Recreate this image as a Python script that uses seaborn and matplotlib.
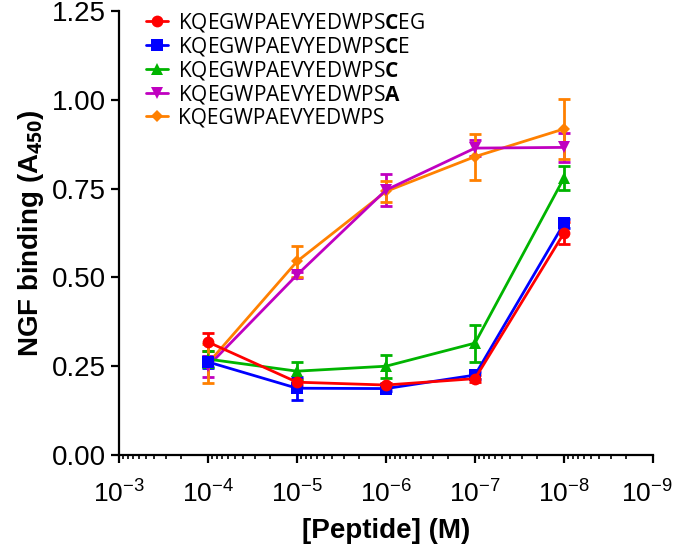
import numpy as np
import pandas as pd
import matplotlib
matplotlib.use("Agg")
import matplotlib.pyplot as plt
import matplotlib.ticker as mticker
import matplotlib.transforms as mtransforms
import seaborn as sns

# ── Data ──────────────────────────────────────────────────────────────────────
conc = [1e-4, 1e-5, 1e-6, 1e-7, 1e-8]

labels = [
    r"KQEGWPAEVYEDWPS$\mathbf{C}$EG",
    r"KQEGWPAEVYEDWPS$\mathbf{C}$E",
    r"KQEGWPAEVYEDWPS$\mathbf{C}$",
    r"KQEGWPAEVYEDWPS$\mathbf{A}$",
    r"KQEGWPAEVYEDWPS",
]

ceg_mean = [0.318, 0.205, 0.197, 0.215, 0.625]
ceg_sem = [0.025, 0.008, 0.007, 0.010, 0.032]
ce_mean = [0.262, 0.188, 0.187, 0.225, 0.652]
ce_sem = [0.018, 0.033, 0.008, 0.010, 0.012]
c_mean = [0.270, 0.236, 0.250, 0.315, 0.780]
c_sem = [0.022, 0.025, 0.032, 0.052, 0.035]
a_mean = [0.250, 0.507, 0.746, 0.864, 0.866]
a_sem = [0.030, 0.008, 0.045, 0.022, 0.040]
wps_mean = [0.258, 0.545, 0.742, 0.840, 0.918]
wps_sem = [0.055, 0.044, 0.030, 0.065, 0.085]

means = [ceg_mean, ce_mean, c_mean, a_mean, wps_mean]
sems = [ceg_sem, ce_sem, c_sem, a_sem, wps_sem]

colors = ["#FF0000", "#0000FF", "#00B400", "#C000C0", "#FF8000"]
markers = ["o", "s", "^", "v", "D"]
msizes = [8.5, 8, 8.5, 8.5, 6.5]

# ── Style ─────────────────────────────────────────────────────────────────────
sns.set_theme(style="ticks")
plt.rcParams["font.family"] = ["Liberation Sans", "DejaVu Sans"]
plt.rcParams["mathtext.fontset"] = "custom"
plt.rcParams["mathtext.rm"] = "Liberation Sans"
plt.rcParams["mathtext.bf"] = "Open Sans:bold"
plt.rcParams["axes.linewidth"] = 1.6
plt.rcParams["text.color"] = "black"
plt.rcParams["axes.labelcolor"] = "black"
plt.rcParams["xtick.color"] = "black"
plt.rcParams["ytick.color"] = "black"

fig = plt.figure(figsize=(6.85, 5.47), dpi=100)
ax = fig.add_axes([119 / 685, 1 - 455 / 547, (653 - 119) / 685, (455 - 11) / 547])

rows = []
for lab, m, s in zip(labels, means, sems):
    for x, y, e in zip(conc, m, s):
        rows.append({"series": lab, "conc": x, "mean": y, "sem": e})
df = pd.DataFrame(rows)

# draw last series first so the first series sits on top
for i in reversed(range(len(labels))):
    sub = df[df["series"] == labels[i]]
    ax.errorbar(sub["conc"], sub["mean"], yerr=sub["sem"], fmt="none",
                ecolor=colors[i], elinewidth=2, capsize=4, capthick=2,
                zorder=3 + i * 0.01)
    sns.lineplot(data=sub, x="conc", y="mean", ax=ax, color=colors[i],
                 marker=markers[i], markersize=msizes[i], markeredgewidth=0,
                 linewidth=2, label=labels[i], zorder=4 + (5 - i))

ax.set_xscale("log")
ax.set_xlim(1e-3, 1e-9)
ax.set_ylim(0, 1.25)
ax.set_yticks([0, 0.25, 0.5, 0.75, 1.0, 1.25])
ax.yaxis.set_major_formatter(mticker.FormatStrFormatter("%.2f"))
ax.set_xticks([1e-3, 1e-4, 1e-5, 1e-6, 1e-7, 1e-8, 1e-9])
ax.xaxis.set_major_formatter(mticker.LogFormatterSciNotation(base=10))
ax.xaxis.set_minor_locator(mticker.LogLocator(base=10, subs=np.arange(2, 10), numticks=20))
ax.xaxis.set_minor_formatter(mticker.NullFormatter())
ax.tick_params(axis="y", which="major", labelsize=20)
ax.tick_params(axis="x", which="major", labelsize=19, pad=12)
ax.tick_params(axis="both", which="major", width=1.6, length=6,
               color="black", labelcolor="black", direction="out")
ax.tick_params(axis="x", which="minor", width=1.2, length=3, color="black")

sns.despine(ax=ax)
for sp in ["left", "bottom"]:
    ax.spines[sp].set_color("black")

ax.set_xlabel("[Peptide] (M)", fontsize=20, fontweight="bold", labelpad=8)
ax.set_ylabel(r"NGF binding (A$_{\mathbf{450}}$)", fontsize=20,
              fontweight="bold", labelpad=4)

handles, labs = ax.get_legend_handles_labels()
order = [labs.index(l) for l in labels]
leg = ax.legend([handles[k] for k in order], [labs[k] for k in order],
                loc="upper left", bbox_to_anchor=(27 / 534, 1.0), frameon=False,
                prop={"family": ["Open Sans", "DejaVu Sans"], "size": 15},
                handlelength=1.05, handletextpad=0.5, labelspacing=0.05,
                borderaxespad=0.0, borderpad=0.0)

# nudge the last x tick label in a little so it stays inside the canvas
fig.canvas.draw()
last = ax.xaxis.get_major_ticks()[-1]
shift = mtransforms.ScaledTranslation(-6 / 100, 0, fig.dpi_scale_trans)
last.label1.set_transform(last.label1.get_transform() + shift)

fig.savefig("out.png", dpi=100)
